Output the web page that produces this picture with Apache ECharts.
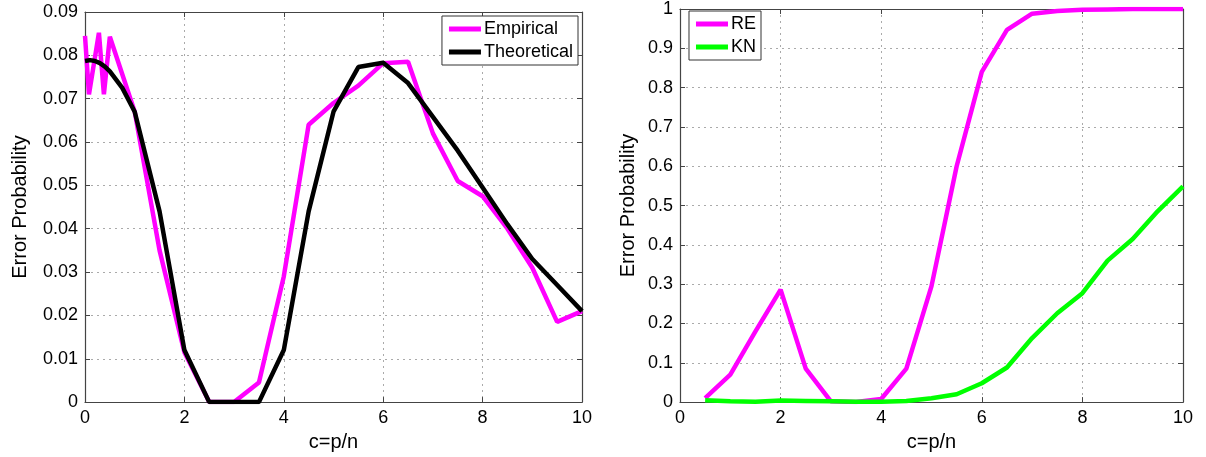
<!DOCTYPE html>
<html>
<head>
<meta charset="utf-8">
<script src="https://cdn.jsdelivr.net/npm/echarts@6/dist/echarts.min.js"></script>
<style>
  html, body { margin: 0; padding: 0; background: #fff; }
  #main { width: 1206px; height: 457px; }
</style>
</head>
<body>
<div id="main"></div>
<script>
// left panel: empirical vs theoretical
var empX = [0, 0.08, 0.28, 0.38, 0.5, 1, 1.5, 2, 2.5, 3, 3.5, 4, 4.5, 5, 5.5, 6, 6.5, 7, 7.5, 8, 8.5, 9, 9.5, 10];
var empY = [0.0845, 0.071, 0.0852, 0.071, 0.0843, 0.067, 0.035, 0.0115, 0, 0, 0.0045, 0.029, 0.064, 0.069, 0.073, 0.0782, 0.0785, 0.062, 0.051, 0.0475, 0.04, 0.031, 0.0185, 0.021];
var theoX = [0, 0.1, 0.2, 0.3, 0.4, 0.5, 0.75, 1, 1.5, 2, 2.5, 3, 3.5, 4, 4.5, 5, 5.5, 6, 6.5, 7, 7.5, 8, 8.5, 9, 9.5, 10];
var theoY = [0.0787, 0.0789, 0.0787, 0.0782, 0.0774, 0.0763, 0.0725, 0.067, 0.044, 0.012, 0, 0, 0, 0.012, 0.044, 0.067, 0.0773, 0.0783, 0.0736, 0.0658, 0.058, 0.0495, 0.041, 0.033, 0.027, 0.021];

// right panel: RE vs KN
var cX = [0.5, 1, 1.5, 2, 2.5, 3, 3.5, 4, 4.5, 5, 5.5, 6, 6.5, 7, 7.5, 8, 8.5, 9, 9.5, 10];
var reY = [0.01, 0.07, 0.18, 0.286, 0.085, 0.002, 0, 0.008, 0.085, 0.295, 0.6, 0.84, 0.947, 0.988, 0.995, 0.998, 0.999, 1, 1, 1];
var knY = [0.005, 0.002, 0.001, 0.004, 0.003, 0.002, 0.001, 0.001, 0.003, 0.01, 0.02, 0.048, 0.088, 0.163, 0.226, 0.277, 0.36, 0.415, 0.486, 0.549];

var leftTicks = { min: 0, max: 0.09, interval: 0.01 };
var rightTicks = { min: 0, max: 1, interval: 0.1 };

function pairs(xs, ys) {
  return xs.map(function (x, i) { return [x, ys[i]]; });
}

var font = '"Liberation Sans", Arial, Helvetica, sans-serif';
var boxColor = '#444';
var gridLine = { show: true, lineStyle: { type: [2, 4], color: '#aaa', width: 1 } };

function mainX(gi) {
  return {
    type: 'value', gridIndex: gi, min: 0, max: 10, interval: 2,
    name: 'c=p/n', nameLocation: 'middle', nameGap: 22,
    nameTextStyle: { fontSize: 20, color: '#000', fontFamily: font },
    axisLine: { show: true, onZero: false, lineStyle: { color: boxColor, width: 1.2 } },
    axisTick: { show: true, inside: true, length: 5, lineStyle: { color: boxColor } },
    axisLabel: { fontSize: 18, color: '#000', fontFamily: font, margin: 7 },
    splitLine: gridLine
  };
}
function topX(gi) {
  return {
    type: 'value', gridIndex: gi, min: 0, max: 10, interval: 2, position: 'top',
    axisLine: { show: true, onZero: false, lineStyle: { color: boxColor, width: 1.2 } },
    axisTick: { show: true, inside: true, length: 5, lineStyle: { color: boxColor } },
    axisLabel: { show: false }, splitLine: { show: false }
  };
}
function mainY(gi, t, gap, fmt) {
  return {
    type: 'value', gridIndex: gi, min: t.min, max: t.max, interval: t.interval,
    name: 'Error Probability', nameLocation: 'middle', nameGap: gap, nameRotate: 90,
    nameTextStyle: { fontSize: 20, color: '#000', fontFamily: font },
    axisLine: { show: true, onZero: false, lineStyle: { color: boxColor, width: 1.2 } },
    axisTick: { show: true, inside: true, length: 5, lineStyle: { color: boxColor } },
    axisLabel: { fontSize: 18, color: '#000', fontFamily: font, margin: 7, formatter: fmt },
    splitLine: gridLine
  };
}
function rightY(gi, t) {
  return {
    type: 'value', gridIndex: gi, min: t.min, max: t.max, interval: t.interval, position: 'right',
    axisLine: { show: true, onZero: false, lineStyle: { color: boxColor, width: 1.2 } },
    axisTick: { show: true, inside: true, length: 5, lineStyle: { color: boxColor } },
    axisLabel: { show: false }, splitLine: { show: false }
  };
}
function line(name, gi, data, color) {
  return {
    name: name, type: 'line', xAxisIndex: gi * 2, yAxisIndex: gi * 2,
    data: data, showSymbol: false, symbol: 'none', animation: false,
    lineStyle: { color: color, width: 4.5 }, itemStyle: { color: color }
  };
}
function legend(names, right, top) {
  return {
    orient: 'vertical', right: right, top: top,
    data: names.map(function (n) { return { name: n, icon: 'rect' }; }),
    itemWidth: 32, itemHeight: 5, itemGap: 5,
    padding: [4, 5, 4, 7],
    borderColor: '#333', borderWidth: 1, borderRadius: 0, backgroundColor: '#fff',
    textStyle: { fontSize: 18, color: '#000', fontFamily: font, padding: [0, 0, 0, -2] },
    selectedMode: false
  };
}

var option = {
  backgroundColor: '#fff',
  animation: false,
  grid: [
    { left: 85, right: 624, top: 12, bottom: 54 },
    { left: 680, right: 23, top: 6, bottom: 54 }
  ],
  legend: [
    legend(['Empirical', 'Theoretical'], 628, 16),
    legend(['RE', 'KN'], 445, 11)
  ],
  xAxis: [mainX(0), topX(0), mainX(1), topX(1)],
  yAxis: [
    mainY(0, leftTicks, 55, function (v) { return v === 0 ? '0' : v.toFixed(2); }),
    rightY(0, leftTicks),
    mainY(1, rightTicks, 42, function (v) { return String(+v.toFixed(1)); }),
    rightY(1, rightTicks)
  ],
  series: [
    line('Empirical', 0, pairs(empX, empY), '#ff00ff'),
    line('Theoretical', 0, pairs(theoX, theoY), '#000000'),
    line('RE', 1, pairs(cX, reY), '#ff00ff'),
    line('KN', 1, pairs(cX, knY), '#00ff00')
  ]
};

var myChart = echarts.init(document.getElementById('main'));
myChart.setOption(option, true);
</script>
</body>
</html>
